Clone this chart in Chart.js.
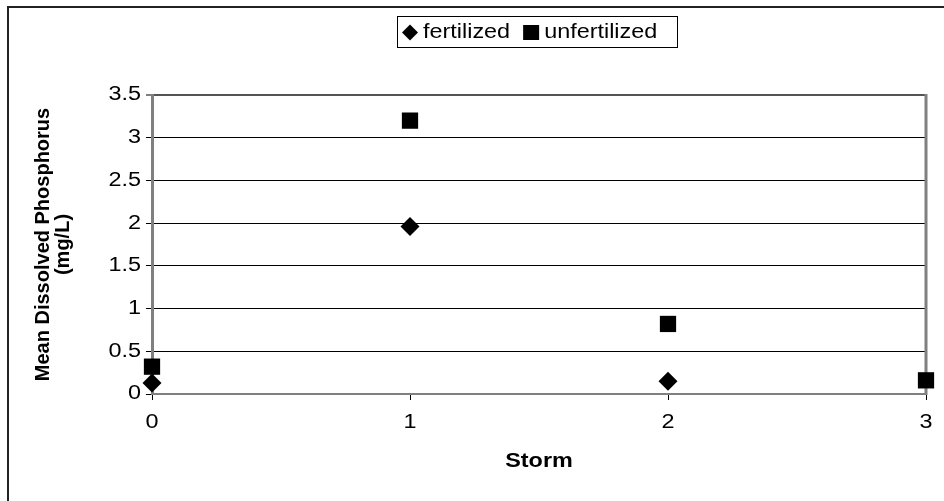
<!DOCTYPE html>
<html>
<head>
<meta charset="utf-8">
<script src="https://cdn.jsdelivr.net/npm/chart.js@4/dist/chart.umd.min.js"></script>
<style>
  html, body { margin: 0; padding: 0; background: #fff; }
  canvas { display: block; }
</style>
</head>
<body>
<canvas id="chart" width="944" height="501"></canvas>
<script>
// Storm events and mean dissolved phosphorus (mg/L) per treatment
const storms = [0, 1, 2, 3];
const fertilized = [0.13, 1.96, 0.15];
const unfertilized = [0.32, 3.2, 0.82, 0.16];
const seriesNames = ['fertilized', 'unfertilized'];
const yTickValues = [0, 0.5, 1, 1.5, 2, 2.5, 3, 3.5];
const xTickValues = [0, 1, 2, 3];

const FONT = '"Liberation Sans", Arial, sans-serif';
const TEXT_WIDEN = 1.2; // horizontal text is set slightly extended

function toPoints(values) {
  return values.map((v, i) => ({ x: storms[i], y: v }));
}

// Extend upright text horizontally around its anchor point; rotated text is left as is
function widenText(ctx, sx) {
  const fill = ctx.fillText;
  ctx.fillText = function (text, x, y, maxWidth) {
    const m = this.getTransform();
    if (Math.abs(m.b) > 1e-6 || Math.abs(m.c) > 1e-6) {
      return maxWidth === undefined ? fill.call(this, text, x, y) : fill.call(this, text, x, y, maxWidth);
    }
    this.save();
    this.translate(x, y);
    this.scale(sx, 1);
    if (maxWidth === undefined) fill.call(this, text, 0, 0);
    else fill.call(this, text, 0, 0, maxWidth / sx);
    this.restore();
  };
}

// Outer frame, right edge of the plot box and the boxed legend
const framePlugin = {
  id: 'frame',
  beforeInit(chart) {
    widenText(chart.ctx, TEXT_WIDEN);
  },
  beforeDraw(chart) {
    const ctx = chart.ctx;
    ctx.save();
    ctx.fillStyle = '#fff';
    ctx.fillRect(0, 0, chart.width, chart.height);
    ctx.restore();
  },
  beforeDatasetsDraw(chart) {
    const ctx = chart.ctx;
    const a = chart.chartArea;
    ctx.save();
    ctx.strokeStyle = '#808080';
    ctx.lineWidth = 3;
    ctx.beginPath();
    ctx.moveTo(a.right, a.top - 1);
    ctx.lineTo(a.right, a.bottom + 1);
    ctx.stroke();
    ctx.restore();
  },
  afterDraw(chart) {
    const ctx = chart.ctx;
    const a = chart.chartArea;
    ctx.save();
    // chart frame
    ctx.strokeStyle = '#222';
    ctx.lineWidth = 2;
    ctx.strokeRect(8, 7, chart.width + 20, chart.height + 20);

    // legend
    ctx.font = '19.5px ' + FONT;
    ctx.textBaseline = 'middle';
    ctx.textAlign = 'left';
    ctx.fillStyle = '#000';
    const padL = 5, padR = 20, markerW = 16, gapAfterMarker = 5, gapBetween = 13;
    const items = chart.data.datasets.map(ds => ({
      label: ds.label, style: ds.pointStyle, w: ctx.measureText(ds.label).width * TEXT_WIDEN
    }));
    let total = padL + padR;
    items.forEach((it, i) => {
      total += markerW + gapAfterMarker + it.w + (i < items.length - 1 ? gapBetween : 0);
    });
    const boxTop = 16, boxH = 31;
    const cx = (a.left + a.right) / 2;
    const boxLeft = Math.round(cx - total / 2) - 2;
    ctx.strokeStyle = '#000';
    ctx.lineWidth = 1;
    ctx.strokeRect(boxLeft + 0.5, boxTop + 0.5, Math.round(total), boxH);
    const my = boxTop + boxH / 2 + 1;
    let x = boxLeft + padL;
    items.forEach(it => {
      const mx = x + markerW / 2;
      ctx.beginPath();
      if (it.style === 'rectRot') {
        const r = 8;
        ctx.moveTo(mx, my - r);
        ctx.lineTo(mx + r, my);
        ctx.lineTo(mx, my + r);
        ctx.lineTo(mx - r, my);
        ctx.closePath();
      } else {
        ctx.rect(mx - 8, my - 7.5, 16, 15);
      }
      ctx.fill();
      x += markerW + gapAfterMarker;
      ctx.fillText(it.label, x, my);
      x += it.w + gapBetween;
    });
    ctx.restore();
  }
};

new Chart(document.getElementById('chart'), {
  type: 'scatter',
  data: {
    datasets: [
      {
        label: seriesNames[0],
        data: toPoints(fertilized),
        pointStyle: 'rectRot',
        pointRadius: 9.5,
        pointHoverRadius: 9.5,
        backgroundColor: '#000',
        borderColor: '#000',
        borderWidth: 0,
        clip: false
      },
      {
        label: seriesNames[1],
        data: toPoints(unfertilized),
        pointStyle: 'rect',
        pointRadius: 11.5,
        pointHoverRadius: 11.5,
        backgroundColor: '#000',
        borderColor: '#000',
        borderWidth: 0,
        clip: false
      }
    ]
  },
  options: {
    responsive: false,
    animation: false,
    events: [],
    layout: { padding: { left: 0, right: 18, top: 95, bottom: 0 } },
    plugins: {
      legend: { display: false },
      tooltip: { enabled: false }
    },
    scales: {
      x: {
        type: 'linear',
        min: 0,
        max: 3,
        afterBuildTicks(scale) { scale.ticks = xTickValues.map(v => ({ value: v })); },
        afterFit(scale) { scale.height = 107; },
        grid: { drawOnChartArea: false, tickLength: 6, tickColor: '#000', tickWidth: 1 },
        border: { color: '#808080', width: 2 },
        ticks: {
          color: '#000',
          font: { family: FONT, size: 19.5 },
          padding: 11,
          maxRotation: 0
        },
        title: {
          display: true,
          text: 'Storm',
          color: '#000',
          font: { family: FONT, size: 19.5, weight: 'bold' },
          padding: { top: 0, bottom: 28 }
        }
      },
      y: {
        type: 'linear',
        min: 0,
        max: 3.5,
        afterBuildTicks(scale) { scale.ticks = yTickValues.map(v => ({ value: v })); },
        afterFit(scale) { scale.width = 152; },
        grid: {
          color: ctx => (ctx.tick && ctx.tick.value === 3.5) ? '#555' : '#000',
          lineWidth: ctx => (ctx.tick && ctx.tick.value === 3.5) ? 2 : 1,
          tickLength: 6,
          tickColor: '#000',
          tickWidth: 1
        },
        border: { color: '#808080', width: 3 },
        ticks: {
          color: '#000',
          font: { family: FONT, size: 19.5 },
          padding: 5,
          callback: v => String(v)
        },
        title: {
          display: true,
          text: ['Mean Dissolved Phosphorus', '(mg/L)'],
          color: '#000',
          font: { family: FONT, size: 20, weight: 'bold', lineHeight: 1.0 },
          padding: { top: 33, bottom: 0 }
        }
      }
    }
  },
  plugins: [framePlugin]
});
</script>
</body>
</html>
